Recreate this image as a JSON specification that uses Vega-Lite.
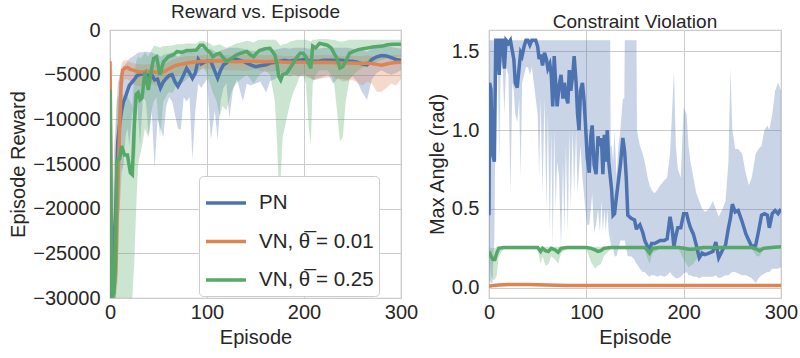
{
  "$schema": "https://vega.github.io/schema/vega-lite/v6.json",
  "padding": {"left": 8, "top": 2, "right": 5, "bottom": 5},
  "background": "white",
  "config": {
    "font": "Liberation Sans",
    "view": {"stroke": "#cccccc", "strokeWidth": 1.25},
    "axis": {"grid": true, "gridColor": "#cccccc", "gridWidth": 1, "gridOpacity": 1, "domain": false, "ticks": false, "labelFontSize": 20, "labelColor": "#262626", "titleFontSize": 20, "titleColor": "#262626", "titleFontWeight": "normal", "labelFont": "Liberation Sans", "titleFont": "Liberation Sans", "labelFlush": false},
    "axisX": {"labelPadding": 4, "titlePadding": 5},
    "axisY": {"labelPadding": 10, "titlePadding": 4}
  },
  "datasets": {
    "reward": [
      {"s":"a","e":0,"m":-29500,"lo":-30000,"hi":-26000},
      {"s":"a","e":2,"m":-29800,"lo":-30000,"hi":-24000},
      {"s":"a","e":4,"m":-24000,"lo":-30000,"hi":-14000},
      {"s":"a","e":6,"m":-20000,"lo":-30000,"hi":-10000},
      {"s":"a","e":8,"m":-12500,"lo":-22000,"hi":-6000},
      {"s":"a","e":10,"m":-10500,"lo":-20000,"hi":-5000},
      {"s":"a","e":12,"m":-9000,"lo":-16000,"hi":-4500},
      {"s":"a","e":14,"m":-8000,"lo":-15000,"hi":-4000},
      {"s":"a","e":16,"m":-7500,"lo":-12000,"hi":-3800},
      {"s":"a","e":18,"m":-6800,"lo":-11000,"hi":-3500},
      {"s":"a","e":20,"m":-6200,"lo":-13000,"hi":-3200},
      {"s":"a","e":23,"m":-5800,"lo":-9000,"hi":-3000},
      {"s":"a","e":26,"m":-5400,"lo":-14500,"hi":-2800},
      {"s":"a","e":28,"m":-5100,"lo":-8000,"hi":-2600},
      {"s":"a","e":31,"m":-5000,"lo":-13000,"hi":-2500},
      {"s":"a","e":34,"m":-4900,"lo":-7500,"hi":-2500},
      {"s":"a","e":37,"m":-4650,"lo":-8000,"hi":-2400},
      {"s":"a","e":40,"m":-5200,"lo":-12000,"hi":-2500},
      {"s":"a","e":43,"m":-5000,"lo":-9000,"hi":-2500},
      {"s":"a","e":46,"m":-5600,"lo":-15500,"hi":-2700},
      {"s":"a","e":49,"m":-5500,"lo":-10000,"hi":-2700},
      {"s":"a","e":52,"m":-6500,"lo":-11000,"hi":-3000},
      {"s":"a","e":55,"m":-5800,"lo":-12000,"hi":-2800},
      {"s":"a","e":58,"m":-5400,"lo":-8500,"hi":-2700},
      {"s":"a","e":61,"m":-5100,"lo":-7500,"hi":-2600},
      {"s":"a","e":64,"m":-5000,"lo":-8000,"hi":-2500},
      {"s":"a","e":67,"m":-5800,"lo":-9500,"hi":-2800},
      {"s":"a","e":70,"m":-6300,"lo":-11000,"hi":-3000},
      {"s":"a","e":73,"m":-5700,"lo":-11200,"hi":-2800},
      {"s":"a","e":76,"m":-5000,"lo":-7500,"hi":-2500},
      {"s":"a","e":79,"m":-4300,"lo":-8000,"hi":-2200},
      {"s":"a","e":82,"m":-4800,"lo":-7500,"hi":-2400},
      {"s":"a","e":85,"m":-5400,"lo":-14500,"hi":-2500},
      {"s":"a","e":88,"m":-4800,"lo":-9000,"hi":-2400},
      {"s":"a","e":91,"m":-3300,"lo":-6000,"hi":-1800},
      {"s":"a","e":94,"m":-3800,"lo":-6500,"hi":-2000},
      {"s":"a","e":97,"m":-3600,"lo":-6000,"hi":-2000},
      {"s":"a","e":100,"m":-3500,"lo":-5500,"hi":-2100},
      {"s":"a","e":104,"m":-3500,"lo":-12300,"hi":-2100},
      {"s":"a","e":108,"m":-4600,"lo":-9000,"hi":-2400},
      {"s":"a","e":111,"m":-5400,"lo":-12300,"hi":-2600},
      {"s":"a","e":114,"m":-4500,"lo":-8000,"hi":-2300},
      {"s":"a","e":117,"m":-3900,"lo":-6500,"hi":-2200},
      {"s":"a","e":120,"m":-3700,"lo":-6000,"hi":-2100},
      {"s":"a","e":123,"m":-3400,"lo":-9900,"hi":-2000},
      {"s":"a","e":127,"m":-3300,"lo":-6500,"hi":-2000},
      {"s":"a","e":131,"m":-3300,"lo":-5500,"hi":-2000},
      {"s":"a","e":137,"m":-3500,"lo":-8000,"hi":-2100},
      {"s":"a","e":141,"m":-3700,"lo":-6000,"hi":-2200},
      {"s":"a","e":145,"m":-3900,"lo":-6200,"hi":-2300},
      {"s":"a","e":150,"m":-4100,"lo":-6000,"hi":-2400},
      {"s":"a","e":155,"m":-4000,"lo":-5800,"hi":-2300},
      {"s":"a","e":161,"m":-3900,"lo":-7000,"hi":-2300},
      {"s":"a","e":165,"m":-3700,"lo":-5700,"hi":-2200},
      {"s":"a","e":170,"m":-3600,"lo":-5500,"hi":-2200},
      {"s":"a","e":175,"m":-3500,"lo":-5000,"hi":-2100},
      {"s":"a","e":180,"m":-3400,"lo":-5000,"hi":-2000},
      {"s":"a","e":185,"m":-3500,"lo":-5200,"hi":-2100},
      {"s":"a","e":190,"m":-3400,"lo":-5000,"hi":-2000},
      {"s":"a","e":195,"m":-3400,"lo":-5200,"hi":-2000},
      {"s":"a","e":200,"m":-3300,"lo":-5000,"hi":-2000},
      {"s":"a","e":205,"m":-3400,"lo":-5200,"hi":-2100},
      {"s":"a","e":210,"m":-3500,"lo":-5600,"hi":-2100},
      {"s":"a","e":215,"m":-3500,"lo":-5400,"hi":-2100},
      {"s":"a","e":220,"m":-3400,"lo":-5200,"hi":-2000},
      {"s":"a","e":225,"m":-3400,"lo":-5000,"hi":-2000},
      {"s":"a","e":230,"m":-3400,"lo":-6000,"hi":-2000},
      {"s":"a","e":235,"m":-3350,"lo":-5400,"hi":-2000},
      {"s":"a","e":240,"m":-3400,"lo":-5500,"hi":-2000},
      {"s":"a","e":245,"m":-3500,"lo":-5600,"hi":-2000},
      {"s":"a","e":250,"m":-3500,"lo":-5200,"hi":-2100},
      {"s":"a","e":255,"m":-3600,"lo":-5800,"hi":-2200},
      {"s":"a","e":260,"m":-3800,"lo":-7000,"hi":-2300},
      {"s":"a","e":265,"m":-3900,"lo":-7800,"hi":-2400},
      {"s":"a","e":270,"m":-3300,"lo":-5500,"hi":-2100},
      {"s":"a","e":275,"m":-3000,"lo":-4800,"hi":-1900},
      {"s":"a","e":280,"m":-2850,"lo":-4500,"hi":-1800},
      {"s":"a","e":285,"m":-2900,"lo":-4800,"hi":-1800},
      {"s":"a","e":290,"m":-3100,"lo":-5000,"hi":-1900},
      {"s":"a","e":295,"m":-3300,"lo":-4800,"hi":-2000},
      {"s":"a","e":300,"m":-3400,"lo":-4500,"hi":-2100},

      {"s":"b","e":0,"m":-3500,"lo":-4000,"hi":-3000},
      {"s":"b","e":1,"m":-14000,"lo":-26000,"hi":-3500},
      {"s":"b","e":2,"m":-29000,"lo":-30000,"hi":-20000},
      {"s":"b","e":4,"m":-29500,"lo":-30000,"hi":-25000},
      {"s":"b","e":6,"m":-27000,"lo":-30000,"hi":-20000},
      {"s":"b","e":8,"m":-18000,"lo":-28000,"hi":-10000},
      {"s":"b","e":10,"m":-10600,"lo":-18000,"hi":-6000},
      {"s":"b","e":11.5,"m":-5800,"lo":-9000,"hi":-4000},
      {"s":"b","e":13,"m":-4500,"lo":-6500,"hi":-3500},
      {"s":"b","e":15,"m":-4300,"lo":-5500,"hi":-3400},
      {"s":"b","e":18,"m":-4200,"lo":-5500,"hi":-3400},
      {"s":"b","e":21,"m":-4400,"lo":-5800,"hi":-3600},
      {"s":"b","e":24,"m":-4500,"lo":-6000,"hi":-3700},
      {"s":"b","e":27,"m":-4600,"lo":-6200,"hi":-3800},
      {"s":"b","e":30,"m":-4700,"lo":-6300,"hi":-3800},
      {"s":"b","e":35,"m":-4700,"lo":-6200,"hi":-3900},
      {"s":"b","e":40,"m":-4650,"lo":-6000,"hi":-3800},
      {"s":"b","e":45,"m":-4700,"lo":-6100,"hi":-3900},
      {"s":"b","e":50,"m":-4750,"lo":-6300,"hi":-3900},
      {"s":"b","e":55,"m":-4700,"lo":-6000,"hi":-3800},
      {"s":"b","e":60,"m":-4400,"lo":-5600,"hi":-3600},
      {"s":"b","e":65,"m":-4100,"lo":-5200,"hi":-3300},
      {"s":"b","e":70,"m":-3900,"lo":-5000,"hi":-3100},
      {"s":"b","e":75,"m":-3800,"lo":-4800,"hi":-3000},
      {"s":"b","e":80,"m":-3700,"lo":-4700,"hi":-2900},
      {"s":"b","e":85,"m":-3600,"lo":-4600,"hi":-2900},
      {"s":"b","e":90,"m":-3550,"lo":-4500,"hi":-2900},
      {"s":"b","e":95,"m":-3500,"lo":-4400,"hi":-2800},
      {"s":"b","e":100,"m":-3500,"lo":-4400,"hi":-2800},
      {"s":"b","e":110,"m":-3450,"lo":-4300,"hi":-2800},
      {"s":"b","e":120,"m":-3500,"lo":-4500,"hi":-2800},
      {"s":"b","e":130,"m":-3550,"lo":-4500,"hi":-2900},
      {"s":"b","e":140,"m":-3500,"lo":-4600,"hi":-2800},
      {"s":"b","e":150,"m":-3500,"lo":-4400,"hi":-2800},
      {"s":"b","e":160,"m":-3550,"lo":-4700,"hi":-2800},
      {"s":"b","e":170,"m":-3500,"lo":-4600,"hi":-2800},
      {"s":"b","e":180,"m":-3600,"lo":-4800,"hi":-2900},
      {"s":"b","e":190,"m":-3600,"lo":-5000,"hi":-2900},
      {"s":"b","e":200,"m":-3600,"lo":-5200,"hi":-2900},
      {"s":"b","e":210,"m":-3650,"lo":-5600,"hi":-2800},
      {"s":"b","e":220,"m":-3600,"lo":-5400,"hi":-2800},
      {"s":"b","e":230,"m":-3650,"lo":-5200,"hi":-2800},
      {"s":"b","e":240,"m":-3700,"lo":-5800,"hi":-2900},
      {"s":"b","e":250,"m":-3700,"lo":-5600,"hi":-2900},
      {"s":"b","e":260,"m":-3750,"lo":-6200,"hi":-2900},
      {"s":"b","e":265,"m":-3700,"lo":-5800,"hi":-2800},
      {"s":"b","e":270,"m":-3750,"lo":-6000,"hi":-2900},
      {"s":"b","e":275,"m":-3850,"lo":-6900,"hi":-3000},
      {"s":"b","e":280,"m":-3950,"lo":-6900,"hi":-3000},
      {"s":"b","e":285,"m":-3800,"lo":-6500,"hi":-2900},
      {"s":"b","e":290,"m":-3700,"lo":-6000,"hi":-2800},
      {"s":"b","e":295,"m":-3650,"lo":-6200,"hi":-2800},
      {"s":"b","e":300,"m":-3600,"lo":-5500,"hi":-2800},

      {"s":"c","e":0,"m":-6700,"lo":-7500,"hi":-5500},
      {"s":"c","e":1,"m":-20000,"lo":-30000,"hi":-6000},
      {"s":"c","e":2,"m":-30000,"lo":-30000,"hi":-25000},
      {"s":"c","e":4,"m":-29500,"lo":-30000,"hi":-22000},
      {"s":"c","e":5.5,"m":-26000,"lo":-30000,"hi":-15000},
      {"s":"c","e":7,"m":-14700,"lo":-30000,"hi":-8000},
      {"s":"c","e":10,"m":-14400,"lo":-30000,"hi":-7000},
      {"s":"c","e":12,"m":-13000,"lo":-30000,"hi":-7000},
      {"s":"c","e":15,"m":-14000,"lo":-30000,"hi":-7500},
      {"s":"c","e":18,"m":-14000,"lo":-30000,"hi":-7500},
      {"s":"c","e":21,"m":-16000,"lo":-30000,"hi":-8000},
      {"s":"c","e":23,"m":-16200,"lo":-30000,"hi":-8500},
      {"s":"c","e":25,"m":-10600,"lo":-26000,"hi":-5000},
      {"s":"c","e":27,"m":-7200,"lo":-20000,"hi":-3500},
      {"s":"c","e":29,"m":-7000,"lo":-15000,"hi":-3000},
      {"s":"c","e":31,"m":-7800,"lo":-14000,"hi":-3200},
      {"s":"c","e":33,"m":-7600,"lo":-13000,"hi":-3000},
      {"s":"c","e":36,"m":-4660,"lo":-11000,"hi":-2500},
      {"s":"c","e":39.5,"m":-6700,"lo":-12000,"hi":-3000},
      {"s":"c","e":43,"m":-4300,"lo":-9000,"hi":-2200},
      {"s":"c","e":45,"m":-3170,"lo":-8000,"hi":-1800},
      {"s":"c","e":48,"m":-3000,"lo":-7500,"hi":-1800},
      {"s":"c","e":51.5,"m":-5000,"lo":-12000,"hi":-2000},
      {"s":"c","e":55,"m":-3600,"lo":-8000,"hi":-1800},
      {"s":"c","e":60,"m":-3000,"lo":-7000,"hi":-1800},
      {"s":"c","e":65,"m":-2800,"lo":-7000,"hi":-1700},
      {"s":"c","e":69,"m":-2420,"lo":-6000,"hi":-1600},
      {"s":"c","e":74,"m":-2500,"lo":-6000,"hi":-1600},
      {"s":"c","e":79,"m":-2300,"lo":-5500,"hi":-1500},
      {"s":"c","e":84,"m":-2300,"lo":-5000,"hi":-1500},
      {"s":"c","e":89,"m":-2250,"lo":-5000,"hi":-1500},
      {"s":"c","e":93,"m":-1700,"lo":-4500,"hi":-1200},
      {"s":"c","e":96,"m":-1700,"lo":-4000,"hi":-1200},
      {"s":"c","e":100,"m":-2240,"lo":-5000,"hi":-1400},
      {"s":"c","e":103,"m":-2500,"lo":-6000,"hi":-1500},
      {"s":"c","e":106,"m":-3000,"lo":-7000,"hi":-1800},
      {"s":"c","e":110,"m":-2700,"lo":-8000,"hi":-1700},
      {"s":"c","e":113,"m":-2600,"lo":-9700,"hi":-1600},
      {"s":"c","e":116,"m":-3000,"lo":-8500,"hi":-1800},
      {"s":"c","e":120,"m":-3500,"lo":-9000,"hi":-2000},
      {"s":"c","e":125,"m":-3200,"lo":-7000,"hi":-1800},
      {"s":"c","e":130,"m":-2800,"lo":-6000,"hi":-1500},
      {"s":"c","e":135,"m":-2600,"lo":-5500,"hi":-1400},
      {"s":"c","e":141,"m":-2400,"lo":-5000,"hi":-1200},
      {"s":"c","e":145,"m":-2800,"lo":-5500,"hi":-1300},
      {"s":"c","e":148,"m":-3000,"lo":-6000,"hi":-1400},
      {"s":"c","e":151,"m":-2600,"lo":-5500,"hi":-1200},
      {"s":"c","e":154,"m":-2300,"lo":-5000,"hi":-1100},
      {"s":"c","e":160,"m":-2100,"lo":-4500,"hi":-1100},
      {"s":"c","e":165,"m":-2050,"lo":-5000,"hi":-1100},
      {"s":"c","e":170,"m":-2800,"lo":-8000,"hi":-1100},
      {"s":"c","e":172,"m":-3700,"lo":-12000,"hi":-1200},
      {"s":"c","e":174,"m":-5200,"lo":-17500,"hi":-1500},
      {"s":"c","e":176,"m":-5600,"lo":-16500,"hi":-1800},
      {"s":"c","e":178,"m":-5000,"lo":-12000,"hi":-1600},
      {"s":"c","e":182,"m":-4850,"lo":-10000,"hi":-1500},
      {"s":"c","e":186,"m":-4200,"lo":-8000,"hi":-1300},
      {"s":"c","e":189,"m":-3700,"lo":-7000,"hi":-1200},
      {"s":"c","e":193,"m":-3000,"lo":-6000,"hi":-1100},
      {"s":"c","e":196,"m":-2600,"lo":-5000,"hi":-1100},
      {"s":"c","e":199,"m":-2600,"lo":-5000,"hi":-1100},
      {"s":"c","e":202,"m":-3000,"lo":-6000,"hi":-1100},
      {"s":"c","e":205,"m":-3800,"lo":-11000,"hi":-1200},
      {"s":"c","e":207,"m":-4300,"lo":-12900,"hi":-1300},
      {"s":"c","e":209,"m":-1800,"lo":-6000,"hi":-1100},
      {"s":"c","e":212,"m":-2000,"lo":-5000,"hi":-1100},
      {"s":"c","e":216,"m":-1500,"lo":-4500,"hi":-1000},
      {"s":"c","e":220,"m":-1600,"lo":-4500,"hi":-1000},
      {"s":"c","e":224,"m":-1700,"lo":-4500,"hi":-1000},
      {"s":"c","e":228,"m":-2000,"lo":-5000,"hi":-1100},
      {"s":"c","e":231,"m":-2600,"lo":-6000,"hi":-1100},
      {"s":"c","e":234,"m":-3200,"lo":-9000,"hi":-1200},
      {"s":"c","e":237,"m":-4250,"lo":-12500,"hi":-1300},
      {"s":"c","e":240,"m":-4100,"lo":-12000,"hi":-1300},
      {"s":"c","e":243,"m":-3500,"lo":-8000,"hi":-1200},
      {"s":"c","e":247,"m":-2600,"lo":-5500,"hi":-1100},
      {"s":"c","e":251,"m":-2400,"lo":-5000,"hi":-1100},
      {"s":"c","e":256,"m":-2200,"lo":-4500,"hi":-1100},
      {"s":"c","e":261,"m":-2100,"lo":-4200,"hi":-1100},
      {"s":"c","e":266,"m":-2000,"lo":-4000,"hi":-1100},
      {"s":"c","e":271,"m":-1900,"lo":-3800,"hi":-1100},
      {"s":"c","e":276,"m":-1850,"lo":-3500,"hi":-1100},
      {"s":"c","e":281,"m":-1800,"lo":-3300,"hi":-1100},
      {"s":"c","e":286,"m":-1650,"lo":-3200,"hi":-1100},
      {"s":"c","e":292,"m":-1600,"lo":-3000,"hi":-1100},
      {"s":"c","e":300,"m":-1600,"lo":-3000,"hi":-1100}
    ],
    "angle": [
      {"s":"a","e":0,"m":0.46,"lo":0.01,"hi":1.2},
      {"s":"a","e":0.6,"m":1.3,"lo":0.05,"hi":1.57},
      {"s":"a","e":2,"m":1.26,"lo":0.03,"hi":1.57},
      {"s":"a","e":3.5,"m":0.85,"lo":0.03,"hi":1.57},
      {"s":"a","e":5.5,"m":0.8,"lo":0.3,"hi":1.57},
      {"s":"a","e":7,"m":1.57,"lo":1.3,"hi":1.57},
      {"s":"a","e":9,"m":1.57,"lo":1.45,"hi":1.57},
      {"s":"a","e":10.5,"m":1.35,"lo":0.8,"hi":1.57},
      {"s":"a","e":12,"m":1.57,"lo":1.45,"hi":1.57},
      {"s":"a","e":14,"m":1.57,"lo":1.4,"hi":1.57},
      {"s":"a","e":15.8,"m":1.39,"lo":1.1,"hi":1.57},
      {"s":"a","e":17.5,"m":1.57,"lo":1.4,"hi":1.57},
      {"s":"a","e":20,"m":1.55,"lo":1.35,"hi":1.57},
      {"s":"a","e":22,"m":1.57,"lo":0.6,"hi":1.57},
      {"s":"a","e":24,"m":1.5,"lo":1.3,"hi":1.57},
      {"s":"a","e":25.5,"m":1.45,"lo":1.25,"hi":1.57},
      {"s":"a","e":27,"m":1.3,"lo":1.1,"hi":1.57},
      {"s":"a","e":29,"m":1.27,"lo":1.05,"hi":1.57},
      {"s":"a","e":31,"m":1.4,"lo":1.2,"hi":1.57},
      {"s":"a","e":32.5,"m":1.49,"lo":0.7,"hi":1.57},
      {"s":"a","e":34,"m":1.47,"lo":1.3,"hi":1.57},
      {"s":"a","e":36,"m":1.53,"lo":1.35,"hi":1.57},
      {"s":"a","e":38,"m":1.57,"lo":1.4,"hi":1.57},
      {"s":"a","e":40,"m":1.57,"lo":1.4,"hi":1.57},
      {"s":"a","e":42,"m":1.54,"lo":1.35,"hi":1.57},
      {"s":"a","e":44,"m":1.57,"lo":1.4,"hi":1.57},
      {"s":"a","e":46,"m":1.57,"lo":1.3,"hi":1.57},
      {"s":"a","e":48,"m":1.57,"lo":1.2,"hi":1.57},
      {"s":"a","e":50,"m":1.53,"lo":1.1,"hi":1.57},
      {"s":"a","e":51.5,"m":1.45,"lo":0.7,"hi":1.57},
      {"s":"a","e":53,"m":1.48,"lo":1.2,"hi":1.57},
      {"s":"a","e":55,"m":1.41,"lo":0.6,"hi":1.57},
      {"s":"a","e":57,"m":1.49,"lo":1.2,"hi":1.57},
      {"s":"a","e":59,"m":1.45,"lo":0.5,"hi":1.57},
      {"s":"a","e":60.5,"m":1.39,"lo":1.1,"hi":1.57},
      {"s":"a","e":62.5,"m":1.42,"lo":0.35,"hi":1.57},
      {"s":"a","e":64,"m":1.35,"lo":1.0,"hi":1.57},
      {"s":"a","e":65.5,"m":1.15,"lo":0.25,"hi":1.57},
      {"s":"a","e":67,"m":1.47,"lo":1.0,"hi":1.57},
      {"s":"a","e":68.5,"m":1.3,"lo":0.5,"hi":1.57},
      {"s":"a","e":70,"m":1.15,"lo":0.8,"hi":1.57},
      {"s":"a","e":72,"m":1.28,"lo":0.7,"hi":1.57},
      {"s":"a","e":74,"m":1.35,"lo":0.25,"hi":1.57},
      {"s":"a","e":76,"m":1.2,"lo":0.8,"hi":1.57},
      {"s":"a","e":77.5,"m":1.3,"lo":0.35,"hi":1.57},
      {"s":"a","e":79,"m":1.22,"lo":0.9,"hi":1.57},
      {"s":"a","e":81,"m":1.17,"lo":0.35,"hi":1.57},
      {"s":"a","e":82.5,"m":1.38,"lo":1.0,"hi":1.57},
      {"s":"a","e":84,"m":1.25,"lo":0.5,"hi":1.57},
      {"s":"a","e":86,"m":1.35,"lo":1.0,"hi":1.57},
      {"s":"a","e":87.5,"m":1.47,"lo":0.6,"hi":1.57},
      {"s":"a","e":89.5,"m":1.3,"lo":1.0,"hi":1.57},
      {"s":"a","e":91,"m":1.1,"lo":0.6,"hi":1.57},
      {"s":"a","e":92.5,"m":1.0,"lo":0.75,"hi":1.57},
      {"s":"a","e":94,"m":1.25,"lo":0.9,"hi":1.57},
      {"s":"a","e":96,"m":1.3,"lo":0.7,"hi":1.57},
      {"s":"a","e":97.5,"m":1.2,"lo":0.6,"hi":1.57},
      {"s":"a","e":99,"m":1.05,"lo":0.5,"hi":1.57},
      {"s":"a","e":101,"m":0.82,"lo":0.4,"hi":1.57},
      {"s":"a","e":103,"m":0.73,"lo":0.4,"hi":1.57},
      {"s":"a","e":104.6,"m":0.96,"lo":0.5,"hi":1.57},
      {"s":"a","e":106,"m":1.03,"lo":0.6,"hi":1.57},
      {"s":"a","e":108,"m":0.78,"lo":0.35,"hi":1.57},
      {"s":"a","e":110,"m":0.72,"lo":0.4,"hi":1.57},
      {"s":"a","e":112,"m":0.96,"lo":0.5,"hi":1.57},
      {"s":"a","e":114,"m":0.9,"lo":0.35,"hi":1.57},
      {"s":"a","e":115.5,"m":0.95,"lo":0.55,"hi":1.57},
      {"s":"a","e":117,"m":0.72,"lo":0.35,"hi":1.57},
      {"s":"a","e":118.5,"m":0.97,"lo":0.5,"hi":1.57},
      {"s":"a","e":120,"m":0.8,"lo":0.35,"hi":1.57},
      {"s":"a","e":121.5,"m":1.0,"lo":0.5,"hi":1.57},
      {"s":"a","e":123,"m":0.8,"lo":0.35,"hi":1.57},
      {"s":"a","e":124.5,"m":0.71,"lo":0.3,"hi":1.57},
      {"s":"a","e":125,"m":0.68,"lo":0.28,"hi":0.9},
      {"s":"a","e":126,"m":0.62,"lo":0.25,"hi":0.9},
      {"s":"a","e":127.5,"m":0.46,"lo":0.25,"hi":0.8},
      {"s":"a","e":129,"m":0.47,"lo":0.2,"hi":1.0},
      {"s":"a","e":131,"m":0.58,"lo":0.2,"hi":0.7},
      {"s":"a","e":133,"m":0.68,"lo":0.25,"hi":0.9},
      {"s":"a","e":135,"m":0.78,"lo":0.3,"hi":1.0},
      {"s":"a","e":137.5,"m":0.95,"lo":0.3,"hi":1.2},
      {"s":"a","e":139,"m":0.88,"lo":0.3,"hi":1.2},
      {"s":"a","e":139.5,"m":0.85,"lo":0.3,"hi":1.57},
      {"s":"a","e":141,"m":0.7,"lo":0.25,"hi":1.57},
      {"s":"a","e":142.6,"m":0.46,"lo":0.2,"hi":1.57},
      {"s":"a","e":146,"m":0.44,"lo":0.2,"hi":1.57},
      {"s":"a","e":149.5,"m":0.43,"lo":0.18,"hi":1.57},
      {"s":"a","e":151.5,"m":0.37,"lo":0.15,"hi":1.57},
      {"s":"a","e":152,"m":0.38,"lo":0.15,"hi":1.0},
      {"s":"a","e":155,"m":0.4,"lo":0.12,"hi":0.9},
      {"s":"a","e":158,"m":0.35,"lo":0.1,"hi":0.85},
      {"s":"a","e":160,"m":0.3,"lo":0.1,"hi":0.8},
      {"s":"a","e":163,"m":0.26,"lo":0.08,"hi":0.7},
      {"s":"a","e":165,"m":0.245,"lo":0.07,"hi":0.65},
      {"s":"a","e":167,"m":0.28,"lo":0.08,"hi":0.62},
      {"s":"a","e":170,"m":0.28,"lo":0.08,"hi":0.6},
      {"s":"a","e":173,"m":0.29,"lo":0.07,"hi":0.62},
      {"s":"a","e":176,"m":0.3,"lo":0.08,"hi":0.65},
      {"s":"a","e":180,"m":0.3,"lo":0.07,"hi":0.68},
      {"s":"a","e":183,"m":0.31,"lo":0.08,"hi":0.7},
      {"s":"a","e":186,"m":0.45,"lo":0.1,"hi":0.85},
      {"s":"a","e":188,"m":0.38,"lo":0.08,"hi":1.1},
      {"s":"a","e":190,"m":0.26,"lo":0.07,"hi":1.38},
      {"s":"a","e":192,"m":0.33,"lo":0.06,"hi":0.9},
      {"s":"a","e":194,"m":0.38,"lo":0.06,"hi":0.75},
      {"s":"a","e":197,"m":0.38,"lo":0.07,"hi":0.7},
      {"s":"a","e":200,"m":0.47,"lo":0.09,"hi":1.14},
      {"s":"a","e":203,"m":0.47,"lo":0.1,"hi":1.1},
      {"s":"a","e":205,"m":0.42,"lo":0.08,"hi":0.9},
      {"s":"a","e":207,"m":0.38,"lo":0.08,"hi":0.8},
      {"s":"a","e":210,"m":0.34,"lo":0.07,"hi":0.7},
      {"s":"a","e":213,"m":0.27,"lo":0.07,"hi":0.6},
      {"s":"a","e":216,"m":0.19,"lo":0.06,"hi":0.55},
      {"s":"a","e":219,"m":0.22,"lo":0.07,"hi":0.5},
      {"s":"a","e":222,"m":0.21,"lo":0.07,"hi":0.48},
      {"s":"a","e":226,"m":0.22,"lo":0.07,"hi":0.5},
      {"s":"a","e":230,"m":0.23,"lo":0.07,"hi":0.55},
      {"s":"a","e":233,"m":0.29,"lo":0.08,"hi":0.5},
      {"s":"a","e":236,"m":0.19,"lo":0.06,"hi":0.45},
      {"s":"a","e":240,"m":0.24,"lo":0.07,"hi":0.5},
      {"s":"a","e":243,"m":0.27,"lo":0.08,"hi":0.55},
      {"s":"a","e":246,"m":0.38,"lo":0.08,"hi":0.8},
      {"s":"a","e":248,"m":0.44,"lo":0.09,"hi":1.39},
      {"s":"a","e":250,"m":0.53,"lo":0.1,"hi":1.0},
      {"s":"a","e":253,"m":0.48,"lo":0.1,"hi":0.88},
      {"s":"a","e":256,"m":0.49,"lo":0.09,"hi":0.88},
      {"s":"a","e":260,"m":0.42,"lo":0.08,"hi":0.85},
      {"s":"a","e":264,"m":0.34,"lo":0.08,"hi":0.72},
      {"s":"a","e":267,"m":0.3,"lo":0.07,"hi":0.65},
      {"s":"a","e":270,"m":0.26,"lo":0.06,"hi":0.7},
      {"s":"a","e":274,"m":0.27,"lo":0.03,"hi":0.85},
      {"s":"a","e":277,"m":0.36,"lo":0.06,"hi":0.88},
      {"s":"a","e":280,"m":0.46,"lo":0.08,"hi":0.9},
      {"s":"a","e":283,"m":0.47,"lo":0.09,"hi":1.0},
      {"s":"a","e":286,"m":0.46,"lo":0.1,"hi":1.03},
      {"s":"a","e":288,"m":0.38,"lo":0.1,"hi":1.0},
      {"s":"a","e":291,"m":0.47,"lo":0.12,"hi":1.1},
      {"s":"a","e":294,"m":0.49,"lo":0.12,"hi":1.25},
      {"s":"a","e":297,"m":0.47,"lo":0.12,"hi":1.3},
      {"s":"a","e":300,"m":0.5,"lo":0.13,"hi":1.25},

      {"s":"b","e":0,"m":0.01,"lo":0.005,"hi":0.015},
      {"s":"b","e":5,"m":0.015,"lo":0.008,"hi":0.022},
      {"s":"b","e":10,"m":0.018,"lo":0.01,"hi":0.025},
      {"s":"b","e":20,"m":0.02,"lo":0.012,"hi":0.026},
      {"s":"b","e":40,"m":0.02,"lo":0.012,"hi":0.026},
      {"s":"b","e":60,"m":0.017,"lo":0.01,"hi":0.024},
      {"s":"b","e":80,"m":0.015,"lo":0.009,"hi":0.021},
      {"s":"b","e":100,"m":0.014,"lo":0.008,"hi":0.02},
      {"s":"b","e":150,"m":0.014,"lo":0.008,"hi":0.02},
      {"s":"b","e":200,"m":0.014,"lo":0.008,"hi":0.02},
      {"s":"b","e":250,"m":0.014,"lo":0.008,"hi":0.02},
      {"s":"b","e":300,"m":0.015,"lo":0.009,"hi":0.021},

      {"s":"c","e":0,"m":0.23,"lo":0.2,"hi":0.26},
      {"s":"c","e":2,"m":0.2,"lo":0.08,"hi":0.25},
      {"s":"c","e":4,"m":0.18,"lo":0.05,"hi":0.25},
      {"s":"c","e":6,"m":0.18,"lo":0.05,"hi":0.25},
      {"s":"c","e":8,"m":0.22,"lo":0.08,"hi":0.26},
      {"s":"c","e":10,"m":0.25,"lo":0.2,"hi":0.26},
      {"s":"c","e":15,"m":0.255,"lo":0.245,"hi":0.265},
      {"s":"c","e":30,"m":0.255,"lo":0.245,"hi":0.265},
      {"s":"c","e":50,"m":0.255,"lo":0.245,"hi":0.265},
      {"s":"c","e":53,"m":0.23,"lo":0.15,"hi":0.26},
      {"s":"c","e":55,"m":0.25,"lo":0.2,"hi":0.26},
      {"s":"c","e":58,"m":0.235,"lo":0.14,"hi":0.26},
      {"s":"c","e":61,"m":0.23,"lo":0.15,"hi":0.26},
      {"s":"c","e":64,"m":0.25,"lo":0.2,"hi":0.26},
      {"s":"c","e":68,"m":0.24,"lo":0.18,"hi":0.26},
      {"s":"c","e":71,"m":0.225,"lo":0.15,"hi":0.26},
      {"s":"c","e":74,"m":0.25,"lo":0.22,"hi":0.26},
      {"s":"c","e":80,"m":0.255,"lo":0.245,"hi":0.265},
      {"s":"c","e":100,"m":0.255,"lo":0.245,"hi":0.265},
      {"s":"c","e":105,"m":0.25,"lo":0.16,"hi":0.26},
      {"s":"c","e":109,"m":0.24,"lo":0.12,"hi":0.26},
      {"s":"c","e":112,"m":0.23,"lo":0.14,"hi":0.26},
      {"s":"c","e":115,"m":0.235,"lo":0.15,"hi":0.26},
      {"s":"c","e":118,"m":0.25,"lo":0.2,"hi":0.26},
      {"s":"c","e":125,"m":0.255,"lo":0.245,"hi":0.265},
      {"s":"c","e":160,"m":0.255,"lo":0.245,"hi":0.265},
      {"s":"c","e":162,"m":0.245,"lo":0.2,"hi":0.26},
      {"s":"c","e":165,"m":0.22,"lo":0.15,"hi":0.26},
      {"s":"c","e":168,"m":0.25,"lo":0.22,"hi":0.26},
      {"s":"c","e":175,"m":0.255,"lo":0.245,"hi":0.265},
      {"s":"c","e":195,"m":0.255,"lo":0.245,"hi":0.265},
      {"s":"c","e":200,"m":0.25,"lo":0.18,"hi":0.265},
      {"s":"c","e":205,"m":0.245,"lo":0.13,"hi":0.26},
      {"s":"c","e":210,"m":0.245,"lo":0.15,"hi":0.26},
      {"s":"c","e":215,"m":0.25,"lo":0.2,"hi":0.26},
      {"s":"c","e":220,"m":0.255,"lo":0.245,"hi":0.265},
      {"s":"c","e":270,"m":0.255,"lo":0.245,"hi":0.265},
      {"s":"c","e":275,"m":0.245,"lo":0.2,"hi":0.26},
      {"s":"c","e":278,"m":0.235,"lo":0.2,"hi":0.26},
      {"s":"c","e":282,"m":0.25,"lo":0.24,"hi":0.26},
      {"s":"c","e":290,"m":0.255,"lo":0.245,"hi":0.265},
      {"s":"c","e":300,"m":0.26,"lo":0.25,"hi":0.27}
    ]
  },
  "hconcat": [
    {
      "width": 291,
      "height": 268,
      "title": {"text": "Reward vs. Episode", "fontSize": 19, "fontWeight": "normal", "color": "#262626", "font": "Liberation Sans", "offset": -2},
      "data": {"name": "reward"},
      "layer": [
        {
          "mark": {"type": "area", "opacity": 0.3, "clip": true},
          "encoding": {
            "x": {"field": "e", "type": "quantitative", "scale": {"domain": [0, 300], "nice": false, "zero": false}, "axis": {"values": [0, 100, 200, 300], "title": "Episode"}},
            "y": {"field": "lo", "type": "quantitative", "stack": null, "scale": {"domain": [-30000, 0], "nice": false}, "axis": {"values": [-30000, -25000, -20000, -15000, -10000, -5000, 0], "format": "d", "title": "Episode Reward"}},
            "y2": {"field": "hi"},
            "fill": {"field": "s", "type": "nominal", "scale": {"range": ["#4C72B0", "#DD8452", "#55A868"]}, "legend": null}
          }
        },
        {
          "mark": {"type": "line", "strokeWidth": 3.5, "clip": true},
          "encoding": {
            "x": {"field": "e", "type": "quantitative"},
            "y": {"field": "m", "type": "quantitative"},
            "color": {"field": "s", "type": "nominal", "scale": {"domain": ["a", "b", "c"], "range": ["#4C72B0", "#DD8452", "#55A868"]},
              "legend": {"orient": "none", "legendX": 89, "legendY": 146, "title": null, "symbolType": "stroke", "symbolSize": 1600, "symbolStrokeWidth": 3.5, "labelFontSize": 20.5, "labelColor": "#262626", "labelFont": "Liberation Sans", "labelOffset": 11, "rowPadding": 5.5, "padding": 5, "strokeColor": "#cccccc", "fillColor": "white", "cornerRadius": 4,
                "labelExpr": "datum.label == 'a' ? 'PN' : datum.label == 'b' ? 'VN, θ̅ = 0.01' : 'VN, θ̅ = 0.25'"}}
          }
        }
      ]
    },
    {
      "width": 292,
      "height": 268,
      "title": {"text": "Constraint Violation", "fontSize": 19, "fontWeight": "normal", "color": "#262626", "font": "Liberation Sans", "offset": -2},
      "data": {"name": "angle"},
      "layer": [
        {
          "mark": {"type": "area", "opacity": 0.3, "clip": true},
          "encoding": {
            "x": {"field": "e", "type": "quantitative", "scale": {"domain": [0, 300], "nice": false, "zero": false}, "axis": {"values": [0, 100, 200, 300], "title": "Episode"}},
            "y": {"field": "lo", "type": "quantitative", "stack": null, "scale": {"domain": [-0.065, 1.635], "nice": false, "zero": false}, "axis": {"values": [0, 0.5, 1, 1.5], "format": ".1f", "title": "Max Angle (rad)"}},
            "y2": {"field": "hi"},
            "fill": {"field": "s", "type": "nominal", "legend": null}
          }
        },
        {
          "mark": {"type": "line", "strokeWidth": 3.5, "clip": true},
          "encoding": {
            "x": {"field": "e", "type": "quantitative"},
            "y": {"field": "m", "type": "quantitative"},
            "color": {"field": "s", "type": "nominal"}
          }
        }
      ]
    }
  ],
  "spacing": 88,
  "bounds": "flush",
  "resolve": {"scale": {"x": "independent", "y": "independent"}}
}
